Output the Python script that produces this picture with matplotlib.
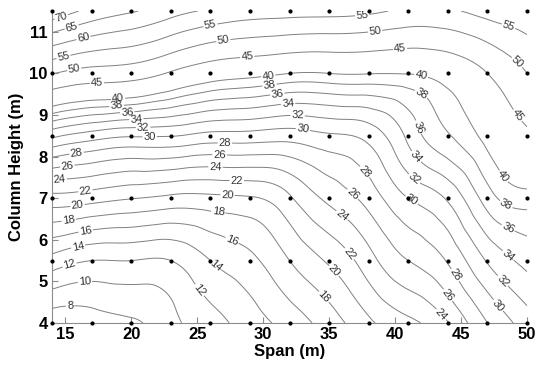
import numpy as np
import matplotlib
matplotlib.use("Agg")
import matplotlib.pyplot as plt
import matplotlib.tri as mtri

plt.rcParams["font.family"] = ["Liberation Sans", "DejaVu Sans"]

# measurement grid (dots)
span = [14, 17, 20, 23, 26, 29, 32, 35, 38, 41, 44, 47, 50]
height = [4.0, 5.5, 7.0, 8.5, 10.0, 11.5]

# values, one row per height
z_h4 = [6.5, 7.0, 7.7, 9.4, 11.2, 13.0, 14.8, 17.0, 19.6, 21.5, 23.9, 28.0, 31.0]
z_h55 = [13.2, 12.0, 12.0, 12.0, 14.0, 15.5, 18.0, 20.3, 23.2, 26.0, 28.2, 32.2, 34.6]
z_h7 = [21.3, 20.8, 20.1, 19.5, 19.5, 19.8, 21.7, 24.5, 26.8, 30.0, 32.3, 37.0, 39.1]
z_h85 = [32.5, 31.0, 30.2, 30.1, 29.3, 29.2, 28.9, 29.7, 30.7, 34.5, 37.8, 40.8, 44.3]
z_h10 = [50.2, 48.0, 47.2, 44.5, 42.0, 41.0, 40.0, 40.0, 40.1, 40.1, 41.5, 45.0, 50.0]
z_h115 = [73.5, 68.5, 65.5, 62.0, 59.3, 57.5, 57.0, 56.8, 56.0, 54.0, 54.3, 57.0, 58.5]

levels = list(range(8, 41, 2)) + [45, 50, 55, 60, 65, 70]

# where the labels sit on the lines
label_pos = [
    (14.7, 11.36), (15.5, 11.1), (16.4, 10.83), (14.9, 10.35), (15.7, 10.06),
    (17.4, 9.77), (19.0, 9.4), (18.9, 9.2), (19.7, 9.05), (20.4, 8.86),
    (20.9, 8.68), (21.4, 8.44), (15.9, 7.97), (15.2, 7.68), (14.6, 7.39),
    (16.5, 7.24), (15.9, 6.9), (15.2, 6.6), (16.5, 6.31), (15.9, 5.95),
    (15.4, 5.32), (16.5, 4.96), (15.4, 4.24),
    (26.0, 11.16), (27.0, 10.75), (28.8, 10.37), (30.4, 9.9), (30.5, 9.67),
    (31.1, 9.45), (31.9, 9.2), (32.6, 8.93), (33.0, 8.62), (27.1, 8.35),
    (26.7, 8.09), (26.4, 7.82), (28.0, 7.35), (27.3, 7.08), (26.6, 6.67),
    (27.6, 5.95), (26.7, 5.5), (25.5, 4.87),
    (37.5, 11.4), (38.5, 10.97), (40.4, 10.49), (41.9, 9.84), (41.7, 9.36),
    (41.8, 8.71), (42.0, 8.11), (41.8, 7.6), (37.7, 7.63), (36.6, 7.03),
    (36.0, 6.6), (36.4, 5.63), (35.2, 5.2), (34.5, 4.6), (41.4, 7.03),
    (44.3, 5.1), (44.0, 4.67), (43.6, 4.24),
    (48.5, 11.04), (48.9, 10.15), (49.1, 8.95), (48.7, 7.63), (48.6, 6.96),
    (48.5, 6.24), (48.5, 5.6), (48.2, 5.03), (48.1, 4.5),
]

Z = np.array([z_h4, z_h55, z_h7, z_h85, z_h10, z_h115])
X, Y = np.meshgrid(span, height)

# two triangles per grid cell
nx = len(span)
tris = []
for j in range(len(height) - 1):
    for i in range(nx - 1):
        a = j * nx + i
        tris.append([a, a + 1, a + nx + 1])
        tris.append([a, a + nx + 1, a + nx])
triang = mtri.Triangulation(X.ravel(), Y.ravel(), tris)
interp = mtri.CubicTriInterpolator(triang, Z.ravel(), kind="min_E")
refiner = mtri.UniformTriRefiner(triang)
tri_f, z_f = refiner.refine_field(Z.ravel(), triinterpolator=interp, subdiv=4)

fig = plt.figure(figsize=(5.38, 3.67), dpi=100)
ax = fig.add_axes([0.0967, 0.12, 0.883, 0.85])

cs = ax.tricontour(tri_f, z_f, levels=levels, colors="0.5", linewidths=0.7)
ax.clabel(cs, fmt="%d", fontsize=8, colors="0.2", manual=label_pos,
          inline=True, inline_spacing=1)

ax.plot(X.ravel(), Y.ravel(), "k.", ms=4, clip_on=False, zorder=5)

ax.set_xlim(14, 50)
ax.set_ylim(4, 11.5)
ax.set_xticks([15, 20, 25, 30, 35, 40, 45, 50])
ax.set_yticks([4, 5, 6, 7, 8, 9, 10, 11])
for s in ["top", "right"]:
    ax.spines[s].set_visible(False)
for s in ["left", "bottom"]:
    ax.spines[s].set_color("0.55")
ax.tick_params(direction="in", length=4, color="0.55", labelsize=12, pad=3)
for lab in ax.get_xticklabels() + ax.get_yticklabels():
    lab.set_fontweight("bold")
ax.set_xlabel("Span (m)", fontsize=12, fontweight="bold", labelpad=1)
ax.set_ylabel("Column Height (m)", fontsize=12, fontweight="bold", labelpad=4)

fig.savefig("out.png", dpi=100)
